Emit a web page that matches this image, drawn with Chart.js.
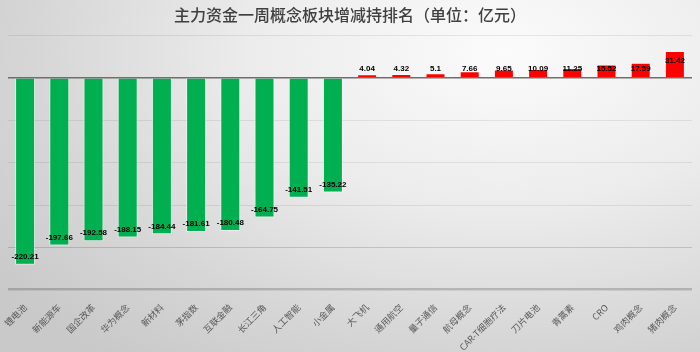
<!DOCTYPE html>
<html>
<head>
<meta charset="utf-8">
<script src="https://cdn.jsdelivr.net/npm/chart.js@4/dist/chart.umd.min.js"></script>
<style>
  html, body { margin: 0; padding: 0; }
  body {
    width: 700px; height: 352px; overflow: hidden;
    background: radial-gradient(ellipse 90% 110% at 72% 15%, #fbfbfb 0%, #ececec 40%, #d6d6d6 75%, #c9c9c9 100%);
  }
  #wrap { width: 700px; height: 352px; position: relative; }
</style>
</head>
<body>
<div id="wrap"><canvas id="chart" width="700" height="352"></canvas></div>
<script>
const categories = ['锂电池', '新能源车', '国企改革', '华为概念', '新材料', '茅指数', '互联金融', '长江三角', '人工智能', '小金属',
    '大飞机', '通用航空', '量子通信', '航母概念', 'CAR-T细胞疗法', '刀片电池', '青蒿素', 'CRO', '鸡肉概念', '猪肉概念'];
const flows = [-220.21, -197.66, -192.58, -188.15, -184.44, -181.61, -180.48, -164.75, -141.51, -135.22,
    4.04, 4.32, 5.1, 7.66, 9.65, 10.09, 11.25, 15.52, 17.59, 31.42];
const titleText = '主力资金一周概念板块增减持排名（单位：亿元）';
const yMin = -250;
const yMax = 50;

// value labels, Excel-like "inside end"
const valueLabels = {
    id: 'valueLabels',
    afterDraw(chart) {
        // bottom gridline, drawn a bit stronger
        const ctx = chart.ctx;
        const area = chart.chartArea;
        const y = Math.min(chart.scales.y.getPixelForValue(yMin), area.bottom) - 1;
        ctx.save();
        ctx.strokeStyle = 'rgba(0,0,0,0.25)';
        ctx.lineWidth = 1.5;
        ctx.beginPath();
        ctx.moveTo(area.left, y);
        ctx.lineTo(area.right, y);
        ctx.stroke();
        ctx.restore();
    },
    afterDatasetsDraw(chart) {
        const ctx = chart.ctx;
        const zero = chart.scales.y.getPixelForValue(0);
        ctx.save();
        ctx.font = 'bold 8px "Liberation Sans Narrow", "Liberation Sans", Arial, sans-serif';
        ctx.fillStyle = '#000';
        ctx.textAlign = 'center';
        ctx.textBaseline = 'middle';
        chart.getDatasetMeta(0).data.forEach((bar, i) => {
            const v = flows[i];
            let y;
            if (v < 0) {
                y = Math.max(bar.y - 8, zero + 9);
            } else {
                y = Math.min(bar.y + 10, zero - 8.5);
            }
            ctx.fillText(String(v), bar.x, y);
        });
        ctx.restore();
    }
};

new Chart(document.getElementById('chart'), {
    type: 'bar',
    data: {
        labels: categories,
        datasets: [{
            data: flows,
            backgroundColor: flows.map((v) => (v < 0 ? '#00B050' : '#FF0000')),
            borderColor: 'rgba(255,255,255,0.55)',
            borderWidth: 1,
            barPercentage: 0.585,
            categoryPercentage: 1,
        }],
    },
    options: {
        responsive: false,
        animation: false,
        layout: {
            padding: { left: 8, right: 8, top: 0, bottom: 0 },
        },
        scales: {
            x: {
                afterFit(axis) { axis.height = 62; },
                grid: { display: false },
                border: { display: false },
                ticks: {
                    autoSkip: false,
                    minRotation: 45,
                    maxRotation: 45,
                    padding: 4,
                    color: '#595959',
                    font: { family: '"Noto Sans CJK SC", sans-serif', size: 9 },
                },
            },
            y: {
                min: yMin,
                max: yMax,
                ticks: { display: false, stepSize: 50 },
                border: { display: false },
                grid: {
                    drawTicks: false,
                    color: (c) => {
                        const v = c.tick.value;
                        if (v === 0) return '#6e6e6e';
                        if (v === -200) return 'rgba(0,0,0,0.15)';
                        return 'rgba(0,0,0,0.08)';
                    },
                    lineWidth: (c) => (c.tick.value === 0 ? 1.5 : 1),
                },
            },
        },
        plugins: {
            legend: { display: false },
            tooltip: { enabled: false },
            title: {
                display: true,
                text: titleText,
                color: '#404040',
                font: { family: '"Noto Sans CJK SC", sans-serif', size: 16, weight: '500' },
                padding: { top: 5, bottom: 11 },
            },
        },
    },
    plugins: [valueLabels],
});
</script>
</body>
</html>
